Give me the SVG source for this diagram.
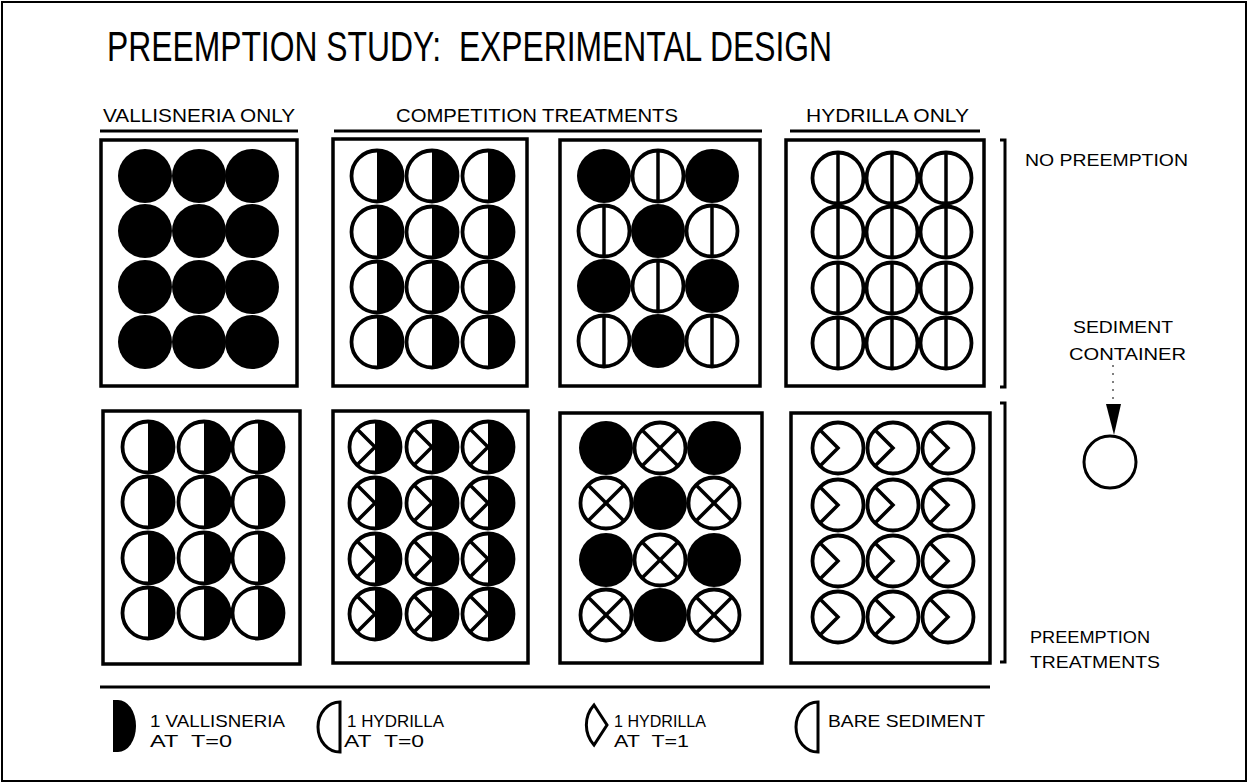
<svg xmlns="http://www.w3.org/2000/svg" xmlns:xlink="http://www.w3.org/1999/xlink" width="1248" height="783" viewBox="0 0 1248 783">
<style>
text{font-family:"Liberation Sans",Arial,sans-serif;fill:#000}
.title{font-size:42px}
.hdr{font-size:19px}
.lbl{font-size:16.5px}
.box{fill:none;stroke:#000;stroke-width:3.5}
.o{fill:#fff;stroke:#000;stroke-width:3.8}
.l{fill:none;stroke:#000;stroke-width:3.5}
.ln{fill:none;stroke:#000;stroke-width:3}
</style>
<defs>
<g id="v"><circle r="27" fill="#000"/></g>
<g id="hv"><circle r="25.5" class="o"/><path d="M0,-25.5A25.5,25.5 0 0 1 0,25.5Z" fill="#000"/></g>
<g id="hh"><circle r="25.5" class="o"/><line x1="0" y1="-25.5" x2="0" y2="25.5" class="l"/></g>
<g id="cv"><circle r="25.5" class="o"/><path d="M0,-25.5A25.5,25.5 0 0 1 0,25.5Z" fill="#000"/><polyline points="-18,-18 0,0 -18,18" class="l"/></g>
<g id="xx"><circle r="25.5" class="o"/><line x1="-18" y1="-18" x2="18" y2="18" class="l"/><line x1="-18" y1="18" x2="18" y2="-18" class="l"/></g>
<g id="cb"><circle r="25.5" class="o"/><polyline points="-18,-18 0,0 -18,18" class="l"/></g>
</defs>
<rect x="2" y="2" width="1244" height="779" fill="#fff" stroke="#000" stroke-width="2"/>
<text class="title" x="107" y="61" textLength="725" lengthAdjust="spacingAndGlyphs">PREEMPTION STUDY:&#160; EXPERIMENTAL DESIGN</text>
<g id="headers">
<text class="hdr" x="103" y="122" textLength="192" lengthAdjust="spacingAndGlyphs">VALLISNERIA ONLY</text>
<path class="ln" d="M100,131H298"/>
<text class="hdr" x="396" y="122" textLength="282" lengthAdjust="spacingAndGlyphs">COMPETITION TREATMENTS</text>
<path class="ln" d="M334,131H762"/>
<text class="hdr" x="806" y="122" textLength="163" lengthAdjust="spacingAndGlyphs">HYDRILLA ONLY</text>
<path class="ln" d="M790,131H980"/>
</g>
<g id="box-vall-top">
<rect class="box" x="101" y="140" width="196" height="246"/>
<use xlink:href="#v" x="145" y="176"/><use xlink:href="#v" x="199" y="176"/><use xlink:href="#v" x="252" y="176"/>
<use xlink:href="#v" x="145" y="231"/><use xlink:href="#v" x="199" y="231"/><use xlink:href="#v" x="252" y="231"/>
<use xlink:href="#v" x="145" y="287"/><use xlink:href="#v" x="199" y="287"/><use xlink:href="#v" x="252" y="287"/>
<use xlink:href="#v" x="145" y="342"/><use xlink:href="#v" x="199" y="342"/><use xlink:href="#v" x="252" y="342"/>
</g>
<g id="box-comp1-top">
<rect class="box" x="333" y="139" width="194" height="247"/>
<use xlink:href="#hv" x="377" y="176"/><use xlink:href="#hv" x="432" y="176"/><use xlink:href="#hv" x="488" y="176"/>
<use xlink:href="#hv" x="377" y="232"/><use xlink:href="#hv" x="432" y="232"/><use xlink:href="#hv" x="488" y="232"/>
<use xlink:href="#hv" x="377" y="287"/><use xlink:href="#hv" x="432" y="287"/><use xlink:href="#hv" x="488" y="287"/>
<use xlink:href="#hv" x="377" y="342"/><use xlink:href="#hv" x="432" y="342"/><use xlink:href="#hv" x="488" y="342"/>
</g>
<g id="box-comp2-top">
<rect class="box" x="560" y="140" width="200" height="246"/>
<use xlink:href="#v" x="604" y="176"/><use xlink:href="#hh" x="658" y="176"/><use xlink:href="#v" x="712" y="176"/>
<use xlink:href="#hh" x="604" y="231"/><use xlink:href="#v" x="658" y="231"/><use xlink:href="#hh" x="712" y="231"/>
<use xlink:href="#v" x="604" y="286"/><use xlink:href="#hh" x="658" y="286"/><use xlink:href="#v" x="712" y="286"/>
<use xlink:href="#hh" x="604" y="341"/><use xlink:href="#v" x="658" y="341"/><use xlink:href="#hh" x="712" y="341"/>
</g>
<g id="box-hyd-top">
<rect class="box" x="786" y="140" width="198" height="246"/>
<use xlink:href="#hh" x="838" y="178"/><use xlink:href="#hh" x="892" y="178"/><use xlink:href="#hh" x="946" y="178"/>
<use xlink:href="#hh" x="838" y="232"/><use xlink:href="#hh" x="892" y="232"/><use xlink:href="#hh" x="946" y="232"/>
<use xlink:href="#hh" x="838" y="288"/><use xlink:href="#hh" x="892" y="288"/><use xlink:href="#hh" x="946" y="288"/>
<use xlink:href="#hh" x="838" y="343"/><use xlink:href="#hh" x="892" y="343"/><use xlink:href="#hh" x="946" y="343"/>
</g>
<g id="box-vall-bot">
<rect class="box" x="103" y="411" width="197" height="253"/>
<use xlink:href="#hv" x="148" y="447"/><use xlink:href="#hv" x="204" y="447"/><use xlink:href="#hv" x="258" y="447"/>
<use xlink:href="#hv" x="148" y="502"/><use xlink:href="#hv" x="204" y="502"/><use xlink:href="#hv" x="258" y="502"/>
<use xlink:href="#hv" x="148" y="558"/><use xlink:href="#hv" x="204" y="558"/><use xlink:href="#hv" x="258" y="558"/>
<use xlink:href="#hv" x="148" y="613"/><use xlink:href="#hv" x="204" y="613"/><use xlink:href="#hv" x="258" y="613"/>
</g>
<g id="box-comp1-bot">
<rect class="box" x="333" y="411" width="195" height="252"/>
<use xlink:href="#cv" x="375" y="447"/><use xlink:href="#cv" x="432" y="447"/><use xlink:href="#cv" x="488" y="447"/>
<use xlink:href="#cv" x="375" y="503"/><use xlink:href="#cv" x="432" y="503"/><use xlink:href="#cv" x="488" y="503"/>
<use xlink:href="#cv" x="375" y="559"/><use xlink:href="#cv" x="432" y="559"/><use xlink:href="#cv" x="488" y="559"/>
<use xlink:href="#cv" x="375" y="614"/><use xlink:href="#cv" x="432" y="614"/><use xlink:href="#cv" x="488" y="614"/>
</g>
<g id="box-comp2-bot">
<rect class="box" x="560" y="413" width="202" height="250"/>
<use xlink:href="#v" x="606" y="448"/><use xlink:href="#xx" x="660" y="448"/><use xlink:href="#v" x="714" y="448"/>
<use xlink:href="#xx" x="606" y="503"/><use xlink:href="#v" x="660" y="503"/><use xlink:href="#xx" x="714" y="503"/>
<use xlink:href="#v" x="606" y="560"/><use xlink:href="#xx" x="660" y="560"/><use xlink:href="#v" x="714" y="560"/>
<use xlink:href="#xx" x="606" y="615"/><use xlink:href="#v" x="660" y="615"/><use xlink:href="#xx" x="714" y="615"/>
</g>
<g id="box-hyd-bot">
<rect class="box" x="791" y="413" width="199" height="250"/>
<use xlink:href="#cb" x="838" y="448"/><use xlink:href="#cb" x="893" y="448"/><use xlink:href="#cb" x="948" y="448"/>
<use xlink:href="#cb" x="838" y="505"/><use xlink:href="#cb" x="893" y="505"/><use xlink:href="#cb" x="948" y="505"/>
<use xlink:href="#cb" x="838" y="561"/><use xlink:href="#cb" x="893" y="561"/><use xlink:href="#cb" x="948" y="561"/>
<use xlink:href="#cb" x="838" y="617"/><use xlink:href="#cb" x="893" y="617"/><use xlink:href="#cb" x="948" y="617"/>
</g>
<g id="brackets">
<path class="ln" d="M1000,140H1005V387H1000" stroke-width="2.5"/>
<path class="ln" d="M1000,403H1005V662H1000" stroke-width="2.5"/>
<text class="lbl" x="1025" y="166" textLength="163" lengthAdjust="spacingAndGlyphs">NO PREEMPTION</text>
<text class="lbl" x="1030" y="643" textLength="120" lengthAdjust="spacingAndGlyphs">PREEMPTION</text>
<text class="lbl" x="1030" y="668" textLength="130" lengthAdjust="spacingAndGlyphs">TREATMENTS</text>
</g>
<g id="sediment-container">
<text class="lbl" x="1073" y="333" textLength="100" lengthAdjust="spacingAndGlyphs">SEDIMENT</text>
<text class="lbl" x="1069" y="360" textLength="117" lengthAdjust="spacingAndGlyphs">CONTAINER</text>
<line x1="1113" y1="365" x2="1113" y2="404" stroke="#000" stroke-width="1" stroke-dasharray="2 6"/>
<polygon points="1106,404 1121,404 1114,435" fill="#000"/>
<circle cx="1110" cy="462" r="26" fill="none" stroke="#000" stroke-width="3"/>
</g>
<g id="legend">
<path class="ln" d="M100,687H990"/>
<path d="M113,700L118,700A18,26 0 0 1 118,752L113,752Z" fill="#000"/>
<text class="lbl" x="150" y="727" textLength="135" lengthAdjust="spacingAndGlyphs">1 VALLISNERIA</text>
<text class="lbl" x="150" y="747" textLength="82" lengthAdjust="spacingAndGlyphs">AT&#160; T=0</text>
<path class="ln" d="M340,702A22,25 0 0 0 340,752Z"/>
<text class="lbl" x="347" y="727" textLength="97" lengthAdjust="spacingAndGlyphs">1 HYDRILLA</text>
<text class="lbl" x="344" y="747" textLength="80" lengthAdjust="spacingAndGlyphs">AT&#160; T=0</text>
<path class="ln" d="M594,705L607,725L594,745A30,30 0 0 1 594,705Z"/>
<text class="lbl" x="614" y="727" textLength="92" lengthAdjust="spacingAndGlyphs">1 HYDRILLA</text>
<text class="lbl" x="614" y="747" textLength="75" lengthAdjust="spacingAndGlyphs">AT&#160; T=1</text>
<path class="ln" d="M818,702A22,25 0 0 0 818,752Z"/>
<text class="lbl" x="828" y="727" textLength="157" lengthAdjust="spacingAndGlyphs">BARE SEDIMENT</text>
</g>
</svg>
